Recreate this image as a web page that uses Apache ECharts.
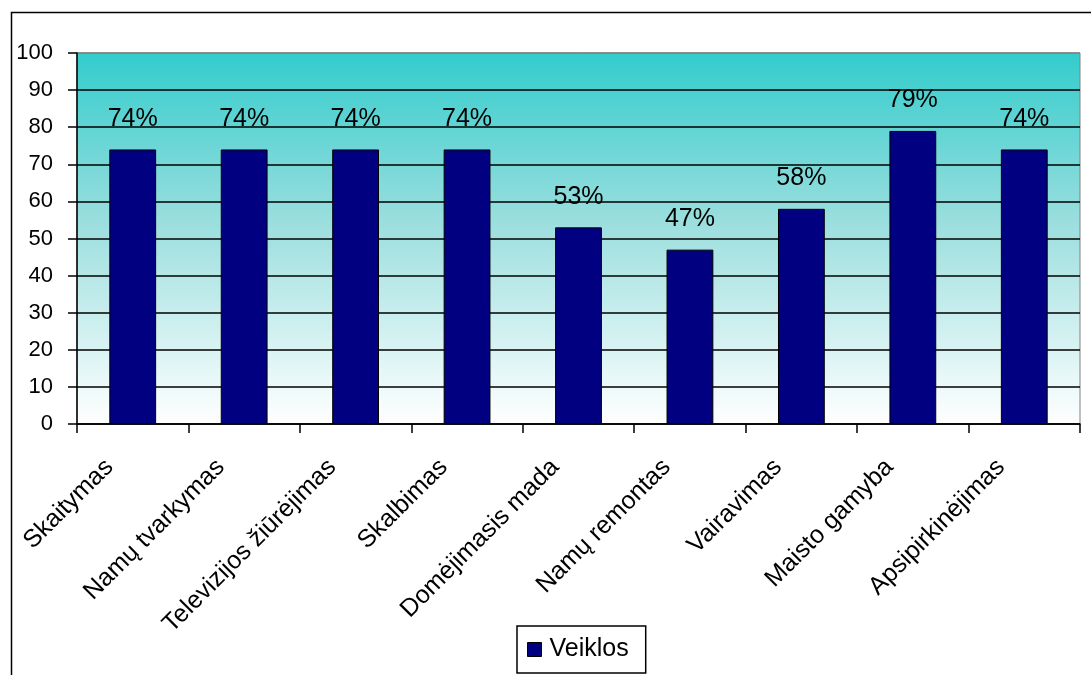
<!DOCTYPE html>
<html>
<head>
<meta charset="utf-8">
<script src="https://cdn.jsdelivr.net/npm/echarts@6/dist/echarts.min.js"></script>
<style>
  html, body { margin: 0; padding: 0; background: #fff; }
  #chart { width: 1091px; height: 675px; }
</style>
</head>
<body>
<div id="chart"></div>
<script>
// Activities and the share of respondents for each (percent)
const categories = [
  'Skaitymas', 'Namų tvarkymas', 'Televizijos žiūrėjimas', 'Skalbimas',
  'Domėjimasis mada', 'Namų remontas', 'Vairavimas', 'Maisto gamyba', 'Apsipirkinėjimas'
];
const veiklos = [74, 74, 74, 74, 53, 47, 58, 79, 74];
const seriesName = 'Veiklos';
const yTicks = { min: 0, max: 100, interval: 10 };

const FONT = 'Arial, "Liberation Sans", sans-serif';

// grid lines: black inside the plot, grey on the top edge (value 100)
const splitColors = [];
for (let v = yTicks.min; v <= yTicks.max; v += yTicks.interval) {
  splitColors.push(v === yTicks.max ? '#808080' : '#000000');
}

const chart = echarts.init(document.getElementById('chart'));
chart.setOption({
  animation: false,
  backgroundColor: '#ffffff',
  textStyle: { fontFamily: FONT, color: '#000' },
  grid: {
    left: 77, right: 11, top: 53, bottom: 251,
    show: true,
    borderColor: '#808080',
    borderWidth: 1,
    backgroundColor: new echarts.graphic.LinearGradient(0, 0, 0, 1, [
      { offset: 0, color: '#33CCCC' },
      { offset: 0.45, color: '#9ADEDE' },
      { offset: 1, color: '#FFFFFF' }
    ])
  },
  legend: {
    data: [seriesName],
    top: 626,
    left: 517,
    icon: 'rect',
    itemWidth: 14,
    itemHeight: 14,
    itemGap: 6,
    padding: [11, 17, 11, 10],
    borderColor: '#000',
    borderWidth: 1.5,
    backgroundColor: '#fff',
    textStyle: { fontFamily: FONT, fontSize: 25, color: '#000', padding: [0, 0, 0, 3] },
    itemStyle: { borderColor: '#000', borderWidth: 1 }
  },
  xAxis: {
    type: 'category',
    data: categories,
    boundaryGap: true,
    axisLine: { show: true, lineStyle: { color: '#000', width: 1.5 } },
    axisTick: { show: true, length: 9, lineStyle: { color: '#000', width: 1.5 } },
    axisLabel: {
      rotate: 45,
      interval: 0,
      margin: 16,
      padding: [0, 33, 0, 0],
      fontFamily: FONT,
      fontSize: 25,
      color: '#000'
    }
  },
  yAxis: {
    type: 'value',
    min: yTicks.min,
    max: yTicks.max,
    interval: yTicks.interval,
    axisLine: { show: true, lineStyle: { color: '#000', width: 1.5 } },
    axisTick: { show: true, length: 9, lineStyle: { color: '#000', width: 1.5 } },
    axisLabel: { fontFamily: FONT, fontSize: 22, color: '#000', margin: 24 },
    splitLine: { show: true, lineStyle: { color: splitColors, width: 1.5 } }
  },
  series: [{
    name: seriesName,
    type: 'bar',
    data: veiklos,
    barWidth: '42%',
    itemStyle: { color: '#000080', borderColor: '#000', borderWidth: 1 },
    label: {
      show: true,
      position: 'top',
      distance: 18,
      formatter: p => p.value + '%',
      fontFamily: FONT,
      fontSize: 25,
      color: '#000'
    }
  }],
  graphic: [{
    type: 'rect',
    left: 9, top: 10,
    shape: { width: 1100, height: 700 },
    style: { fill: 'none', stroke: '#000', lineWidth: 1.5 },
    silent: true
  }]
});
</script>
</body>
</html>
